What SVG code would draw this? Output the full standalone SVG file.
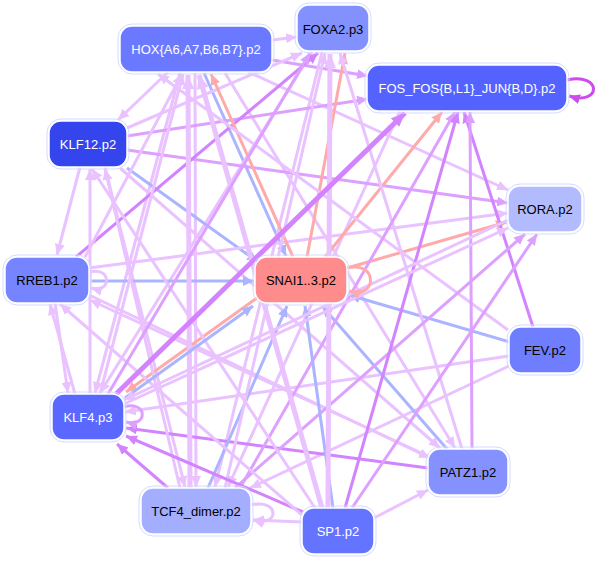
<svg xmlns="http://www.w3.org/2000/svg" width="597" height="561" viewBox="0 0 597 561">
<style>
.e{fill:none;stroke-width:3}
.t{stroke-width:5}
.L{stroke:#e9c2ff;marker-end:url(#mL)}
.M{stroke:#dda0ff;marker-end:url(#mM)}
.D{stroke:#d483ff;marker-end:url(#mD)}
.B{stroke:#abb5ff;marker-end:url(#mB)}
.R{stroke:#ffaaaa;marker-end:url(#mR)}
.S{stroke:#cc4cee;marker-end:url(#mS)}
.Lt{stroke:#e9c2ff;marker-end:url(#mLt)}
.Dt{stroke:#d483ff;marker-end:url(#mDt)}
.o{fill:none;stroke:#d4dbff;stroke-width:1}
.n{stroke:#ffffff;stroke-width:1.5}
text{font-family:"Liberation Sans",Arial,sans-serif;font-size:13px;text-anchor:middle;dominant-baseline:central}
.w{fill:#ffffff}
.k{fill:#000000}
</style>
<defs>
<marker id="mL" markerUnits="userSpaceOnUse" markerWidth="11" markerHeight="10" refX="11" refY="5" orient="auto"><path d="M0,0L11,5L0,10z" fill="#e9c2ff"/></marker>
<marker id="mM" markerUnits="userSpaceOnUse" markerWidth="11" markerHeight="10" refX="11" refY="5" orient="auto"><path d="M0,0L11,5L0,10z" fill="#dda0ff"/></marker>
<marker id="mD" markerUnits="userSpaceOnUse" markerWidth="11" markerHeight="10" refX="11" refY="5" orient="auto"><path d="M0,0L11,5L0,10z" fill="#d483ff"/></marker>
<marker id="mB" markerUnits="userSpaceOnUse" markerWidth="11" markerHeight="10" refX="11" refY="5" orient="auto"><path d="M0,0L11,5L0,10z" fill="#abb5ff"/></marker>
<marker id="mR" markerUnits="userSpaceOnUse" markerWidth="11" markerHeight="10" refX="11" refY="5" orient="auto"><path d="M0,0L11,5L0,10z" fill="#ffaaaa"/></marker>
<marker id="mS" markerUnits="userSpaceOnUse" markerWidth="11" markerHeight="10" refX="11" refY="5" orient="auto"><path d="M0,0L11,5L0,10z" fill="#cc4cee"/></marker>
<marker id="mLt" markerUnits="userSpaceOnUse" markerWidth="14" markerHeight="12" refX="14" refY="6" orient="auto"><path d="M0,0L14,6L0,12z" fill="#e9c2ff"/></marker>
<marker id="mDt" markerUnits="userSpaceOnUse" markerWidth="14" markerHeight="12" refX="14" refY="6" orient="auto"><path d="M0,0L14,6L0,12z" fill="#d483ff"/></marker>
</defs>
<g id="edges">
<path class="e L" d="M272,40L297,37"/>
<path class="e M" d="M272,60L368,76"/>
<path class="e L" d="M168,72L118,120"/>
<path class="e L" d="M248,72L508,190"/>
<path class="e B" d="M204,73L286,256"/>
<path class="e L" d="M180,73L95,393"/>
<path class="e L" d="M195,73L196,487"/>
<path class="e L" d="M225,73L455,448"/>
<path class="e L" d="M312,52L100,393"/>
<path class="e L" d="M322,52L215,487"/>
<path class="e L" d="M400,111L228,487"/>
<path class="e M" d="M127,136L368,99"/>
<path class="e M" d="M127,150L508,203"/>
<path class="e B" d="M127,168L258,262"/>
<path class="e L" d="M80,167L57,255"/>
<path class="e L" d="M105,167L185,487"/>
<path class="e L" d="M120,168L440,448"/>
<path class="e L" d="M127,128L302,53"/>
<path class="e D" d="M76,257L318,53"/>
<path class="e B" d="M89,281L254,281"/>
<path class="e L" d="M85,257L182,74"/>
<path class="e L" d="M89,268L508,213"/>
<path class="e L" d="M89,295L430,458"/>
<path class="e L" d="M55,303L68,393"/>
<path class="e R" d="M293,257L211,74"/>
<path class="e R" d="M307,257L345,53"/>
<path class="e R" d="M325,257L442,112"/>
<path class="e R" d="M347,268L507,222"/>
<path class="e R" d="M257,298L126,392"/>
<path class="e B" d="M510,342L349,295"/>
<path class="e D" d="M533,327L464,112"/>
<path class="e L" d="M509,356L125,412"/>
<path class="e L" d="M509,366L250,488"/>
<path class="e L" d="M508,330L158,74"/>
<path class="e B" d="M447,449L322,306"/>
<path class="e D" d="M428,468L126,428"/>
<path class="e M" d="M472,449L470,112"/>
<path class="e L" d="M462,449L340,53"/>
<path class="e L" d="M428,456L90,300"/>
<path class="e B" d="M208,488L287,306"/>
<path class="e D" d="M168,488L117,444"/>
<path class="e t Lt" d="M190,488L188,75"/>
<path class="e L" d="M225,488L325,53"/>
<path class="e M" d="M235,488L525,234"/>
<path class="e L" d="M180,488L105,169"/>
<path class="e M" d="M240,488L455,112"/>
<path class="e B" d="M333,508L305,306"/>
<path class="e L" d="M302,522L253,520"/>
<path class="e L" d="M374,518L428,490"/>
<path class="e D" d="M303,512L126,436"/>
<path class="e t Lt" d="M322,508L199,75"/>
<path class="e t Lt" d="M328,508L330,54"/>
<path class="e D" d="M345,508L458,112"/>
<path class="e M" d="M352,508L537,234"/>
<path class="e L" d="M315,508L92,169"/>
<path class="e L" d="M302,515L60,304"/>
<path class="e B" d="M125,398L253,306"/>
<path class="e t Dt" d="M116,394L405,113"/>
<path class="e L" d="M90,394L90,169"/>
<path class="e L" d="M124,404L508,228"/>
<path class="e M" d="M108,394L310,53"/>
<path class="e L" d="M100,394L183,74"/>
<path class="e L" d="M75,394L50,304"/>
<path class="e L" d="M508,220L124,400"/>
<path class="e S" d="M567,80C602,72 602,106 569,96"/>
<path class="e R" d="M347,268C378,260 378,300 349,291"/>
<path class="e L" d="M89,272C112,266 112,294 91,288"/>
<path class="e M" d="M124,407C148,400 148,428 126,422"/>
<path class="e L" d="M251,505C280,498 280,528 253,520"/>
</g>
<g id="HOX"><rect class="o" x="118" y="24" width="156" height="50" rx="14"/><rect class="n" x="120" y="26" width="152" height="46" rx="12" fill="#6a79ff"/><text class="w" x="196" y="49">HOX{A6,A7,B6,B7}.p2</text></g>
<g id="FOXA2"><rect class="o" x="295" y="3" width="76" height="50" rx="14"/><rect class="n" x="297" y="5" width="72" height="46" rx="12" fill="#8391ff"/><text class="k" x="333" y="29">FOXA2.p3</text></g>
<g id="FOS"><rect class="o" x="365" y="63" width="204" height="50" rx="14"/><rect class="n" x="367" y="65" width="200" height="46" rx="12" fill="#5463ff"/><text class="w" x="467" y="88">FOS_FOS{B,L1}_JUN{B,D}.p2</text></g>
<g id="KLF12"><rect class="o" x="47" y="119" width="82" height="50" rx="14"/><rect class="n" x="49" y="121" width="78" height="46" rx="12" fill="#3545ee"/><text class="w" x="88" y="144">KLF12.p2</text></g>
<g id="RORA"><rect class="o" x="506" y="184" width="78" height="50" rx="14"/><rect class="n" x="508" y="186" width="74" height="46" rx="12" fill="#b3bbff"/><text class="k" x="545" y="209">RORA.p2</text></g>
<g id="RREB1"><rect class="o" x="3" y="255" width="88" height="50" rx="14"/><rect class="n" x="5" y="257" width="84" height="46" rx="12" fill="#7684ff"/><text class="k" x="47" y="280">RREB1.p2</text></g>
<g id="SNAI"><rect class="o" x="253" y="255" width="96" height="50" rx="14"/><rect class="n" x="255" y="257" width="92" height="46" rx="12" fill="#ff8c8c"/><text class="k" x="301" y="280">SNAI1..3.p2</text></g>
<g id="FEV"><rect class="o" x="507" y="325" width="76" height="50" rx="14"/><rect class="n" x="509" y="327" width="72" height="46" rx="12" fill="#6f7dff"/><text class="k" x="545" y="350">FEV.p2</text></g>
<g id="KLF4"><rect class="o" x="50" y="392" width="76" height="50" rx="14"/><rect class="n" x="52" y="394" width="72" height="46" rx="12" fill="#5a68ff"/><text class="w" x="88" y="417">KLF4.p3</text></g>
<g id="PATZ1"><rect class="o" x="426" y="447" width="84" height="50" rx="14"/><rect class="n" x="428" y="449" width="80" height="46" rx="12" fill="#8591ff"/><text class="k" x="468" y="472">PATZ1.p2</text></g>
<g id="TCF4"><rect class="o" x="139" y="486" width="114" height="50" rx="14"/><rect class="n" x="141" y="488" width="110" height="46" rx="12" fill="#a4aeff"/><text class="k" x="196" y="511">TCF4_dimer.p2</text></g>
<g id="SP1"><rect class="o" x="300" y="506" width="76" height="50" rx="14"/><rect class="n" x="302" y="508" width="72" height="46" rx="12" fill="#6474ff"/><text class="w" x="338" y="531">SP1.p2</text></g>
</svg>
